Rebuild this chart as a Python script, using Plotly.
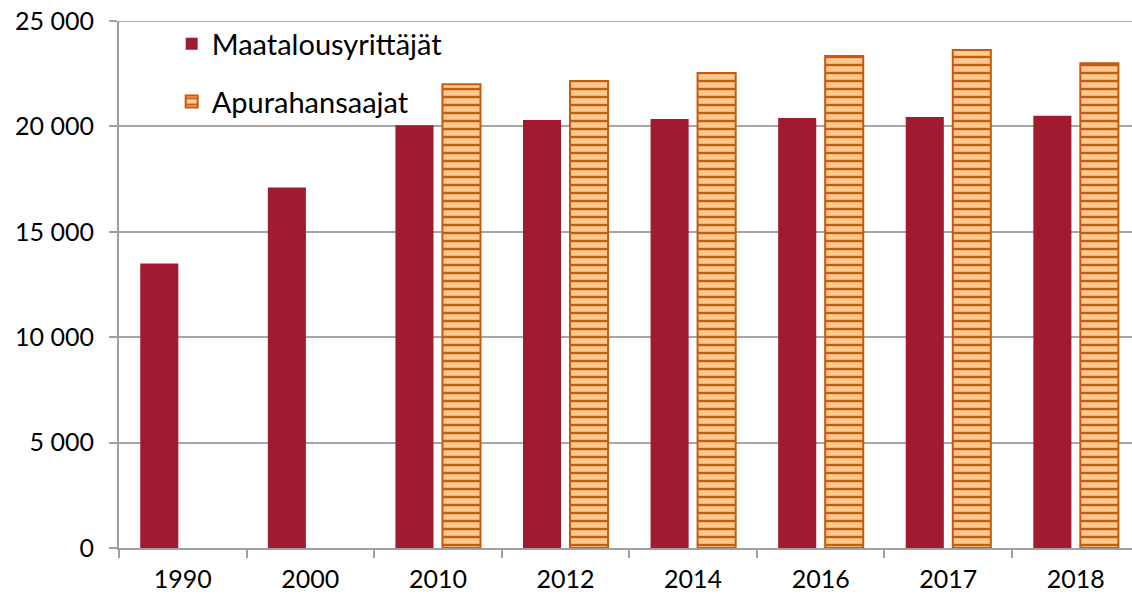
import plotly.graph_objects as go

years = ["1990", "2000", "2010", "2012", "2014", "2016", "2017", "2018"]
maatalousyrittajat = [13500, 17100, 20050, 20300, 20350, 20400, 20450, 20500]
apurahansaajat = [None, None, 22000, 22150, 22530, 23340, 23620, 23000]
y_tickvals = [0, 5000, 10000, 15000, 20000, 25000]
y_ticktext = ["0", "5 000", "10 000", "15 000", "20 000", "25 000"]

FONT = "Lato, Carlito, Calibri, sans-serif"

fig = go.Figure()
fig.add_trace(go.Bar(
    x=years, y=maatalousyrittajat, name="Maatalousyrittäjät",
    marker=dict(color="#A21A30", line=dict(width=0)),
    legendgroup="a",
))
fig.add_trace(go.Bar(
    x=years, y=apurahansaajat, name="Apurahansaajat",
    marker=dict(
        color="#FFC990",
        line=dict(color="#C55A11", width=2),
        pattern=dict(shape="-", fgcolor="#C0600F", bgcolor="#FFC990",
                     size=8, solidity=0.3, fillmode="replace"),
    ),
    legendgroup="b",
))

fig.update_layout(
    width=1132, height=600,
    margin=dict(l=119, r=0, t=21, b=52, autoexpand=False),
    paper_bgcolor="white", plot_bgcolor="white",
    barmode="group", bargap=0.263, bargroupgap=0.19,
    font=dict(family=FONT, size=25, color="#000000"),
    showlegend=True,
    legend=dict(x=0.052, y=1.005, xanchor="left", yanchor="top",
                bgcolor="rgba(0,0,0,0)", font=dict(size=29, family=FONT),
                traceorder="grouped", tracegroupgap=17, itemwidth=30),
    xaxis=dict(
        type="category", range=[-0.5, 7.44],
        showline=True, linecolor="#A0A0A0", linewidth=2,
        ticks="outside", tickson="boundaries", ticklen=8,
        tickcolor="#A0A0A0", tickwidth=2,
        tickfont=dict(size=25, family=FONT),
        ticklabelstandoff=8,
        showgrid=False,
    ),
    yaxis=dict(
        range=[0, 25000], tickvals=y_tickvals, ticktext=y_ticktext,
        showline=True, linecolor="#A0A0A0", linewidth=2,
        ticks="outside", ticklen=8, tickcolor="#A0A0A0", tickwidth=2,
        showgrid=True, gridcolor="#A6A6A6", gridwidth=2,
        zeroline=False,
        tickfont=dict(size=25, family=FONT),
        ticklabelstandoff=10,
        ticklabeloverflow="allow",
    ),
)
fig.add_shape(type="line", xref="paper", yref="y", x0=-0.009, x1=1, y0=25000, y1=25000,
              line=dict(color="#A6A6A6", width=2))

fig.write_html("out.html", config={"displayModeBar": False},
               post_script="document.body.style.margin='0';")
